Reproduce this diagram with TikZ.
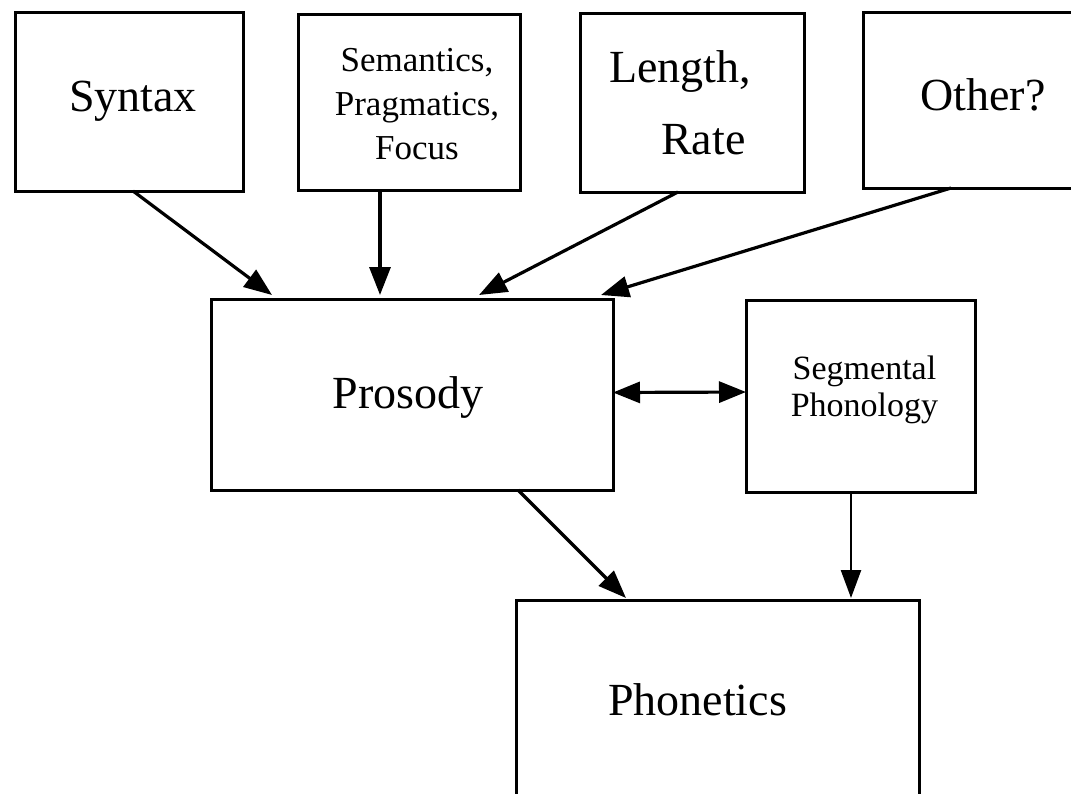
\documentclass[tikz,border=0pt]{standalone}
\usepackage{fontspec}
\setmainfont{Liberation Serif}
\usetikzlibrary{arrows.meta,calc}
\begin{document}
\begin{tikzpicture}[x=1pt,y=-1pt,
  box/.style={draw, line width=3pt, inner sep=0pt, outer sep=0pt},
  arr/.style={line width=3.2pt, -{Triangle[length=28pt,width=21pt]}},
  thinarr/.style={line width=2.4pt, -{Triangle[length=28pt,width=20pt]}},
  dblarr/.style={line width=3.2pt, {Triangle[length=27pt,width=21pt]}-{Triangle[length=27pt,width=21pt]}},
  big/.style={inner sep=0pt, font=\fontsize{46}{54}\selectfont},
  mid/.style={inner sep=0pt, align=center, font=\fontsize{35}{44}\selectfont}]
\useasboundingbox (0,0) rectangle (1071,793);
\fill[white] (0,0) rectangle (1071,793);
\clip (0,0) rectangle (1071,793);
% boxes
\node[box, minimum width=228pt, minimum height=179pt] (syntax) at (129,101.5) {};
\node[box, minimum width=222pt, minimum height=176pt] (sem) at (409,102) {};
\node[box, minimum width=224pt, minimum height=179pt] (len) at (692,102.5) {};
\node[box, minimum width=237pt, minimum height=176pt] (other) at (981.5,100) {};
\node[box, minimum width=402pt, minimum height=191pt] (prosody) at (412,394.5) {};
\node[box, minimum width=229pt, minimum height=192pt] (seg) at (860.5,396) {};
\node[box, minimum width=403pt, minimum height=210pt] (phon) at (717.5,705) {};
% texts
\node[big] (syntaxt) at ($(syntax.center)+(4,0)$) {Syntax};
\node[mid] (semt) at ($(sem.center)+(8,2)$) {Semantics,\\Pragmatics,\\Focus};
\node[inner sep=0pt, align=left, font=\fontsize{46}{72}\selectfont] (lent) at ($(len.center)+(-12,0)$) {Length,\\\hspace*{52pt}Rate};
\node[big] (othert) at ($(other.center)+(1.5,-5)$) {Other?};
\node[big] (prosodyt) at ($(prosody.center)+(-4,3)$) {Prosody};
\node[inner sep=0pt, align=center, font=\fontsize{34}{37}\selectfont] (segt) at ($(seg.center)+(4,-6)$) {Segmental\\Phonology};
\node[inner sep=0pt, font=\fontsize{46}{54}\selectfont] (phont) at ($(phon.center)+(-20,-5)$) {Phonetics};
% connectors
\draw[arr] ($(syntax.south)+(4,0)$) -- ($(prosody.north west)+(61,-4)$);
\draw[arr] ($(sem.south)+(-29,0)$) -- ($(prosody.north west)+(169,-4)$);
\draw[arr] ($(len.south)+(-14,0)$) -- ($(prosody.north west)+(268,-4)$);
\draw[arr] ($(other.south)+(-30.5,0)$) -- ($(prosody.north west)+(390,-4)$);
\draw[dblarr] ($(prosody.east)+(0,-2)$) -- ($(seg.west)+(0,-4)$);
\draw[arr] ($(prosody.south)+(106,0)$) -- ($(phon.north west)+(110,-2)$);
\draw[thinarr] ($(seg.south)+(-9.5,0)$) -- ($(phon.north west)+(335,-2)$);
\end{tikzpicture}
\end{document}
